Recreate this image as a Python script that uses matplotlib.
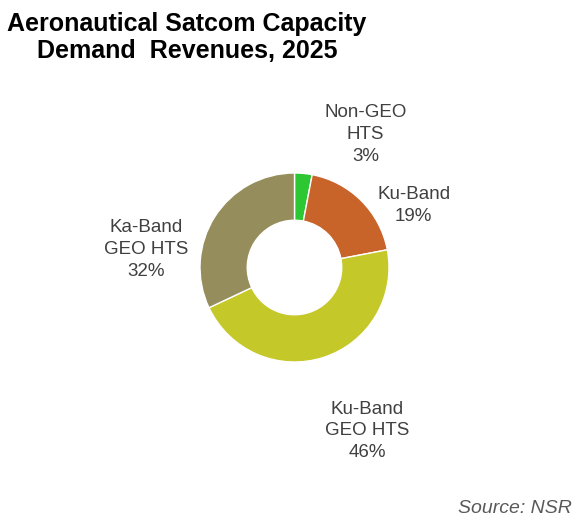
import matplotlib.pyplot as plt

plt.rcParams['font.family'] = ['Liberation Sans', 'DejaVu Sans']

# datos del gráfico
segments = ['Non-GEO\nHTS', 'Ku-Band', 'Ku-Band\nGEO HTS', 'Ka-Band\nGEO HTS']
shares = [3, 19, 46, 32]
colors = ['#2dc734', '#c8632a', '#c4c829', '#958e5c']

# posiciones de las etiquetas (en radios del anillo)
label_pos = [(0.75, 1.41), (1.26, 0.66), (0.77, -1.73), (-1.57, 0.19)]

W, H = 582, 525
cx, cy, r = 294.5, 257.5, 94.5

fig = plt.figure(figsize=(W / 100, H / 100), dpi=100)
ax = fig.add_axes([0, 0, 1, 1])

ax.pie(shares, colors=colors, startangle=90, counterclock=False,
       wedgeprops=dict(width=0.5, edgecolor='white', linewidth=1))

for name, val, (x, y) in zip(segments, shares, label_pos):
    ax.text(x, y, f'{name}\n{val}%', ha='center', va='center',
            fontsize=13.5, color='#404040', linespacing=1.38)

ax.set_xlim(-cx / r, (W - cx) / r)
ax.set_ylim(-cy / r, (H - cy) / r)
ax.set_aspect('auto')
ax.axis('off')

fig.text(187 / W, 1 - 12 / H, 'Aeronautical Satcom Capacity\nDemand  Revenues, 2025',
         ha='center', va='top', fontsize=18, fontweight='bold', linespacing=1.14)
fig.text(572 / W, 1 - 513 / H, 'Source: NSR', ha='right', va='baseline',
         fontsize=14, style='italic', color='#595959')

fig.savefig('out.png', dpi=100)
